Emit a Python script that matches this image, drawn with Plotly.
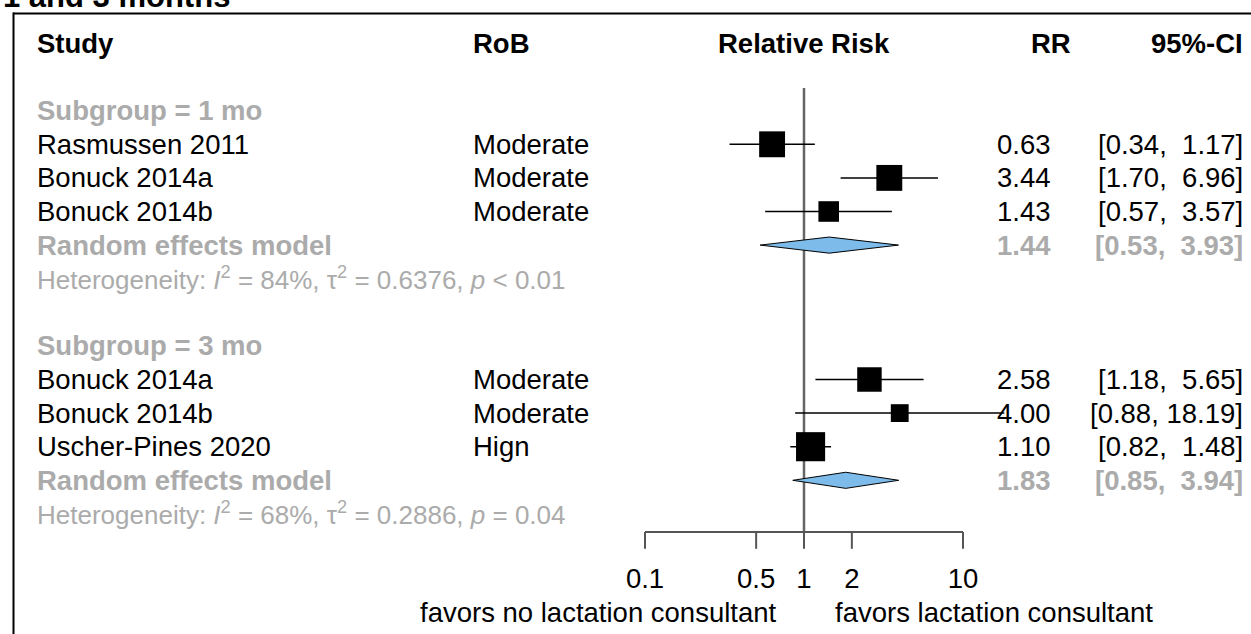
import numpy as np
import plotly.graph_objects as go

# ---- data -------------------------------------------------------------
subgroups = ["1 mo", "3 mo"]

study_group = [0, 0, 0, 1, 1, 1]
study_names = ["Rasmussen 2011", "Bonuck 2014a", "Bonuck 2014b",
               "Bonuck 2014a", "Bonuck 2014b", "Uscher-Pines 2020"]
study_rob = ["Moderate", "Moderate", "Moderate", "Moderate", "Moderate", "Hign"]
study_rr = [0.63, 3.44, 1.43, 2.58, 4.00, 1.10]
study_lo = [0.34, 1.70, 0.57, 1.18, 0.88, 0.82]
study_hi = [1.17, 6.96, 3.57, 5.65, 18.19, 1.48]
study_weight = [38, 38, 24, 34, 18, 48]   # percent weight within subgroup

pooled_rr = [1.44, 1.83]
pooled_lo = [0.53, 0.85]
pooled_hi = [3.93, 3.94]

het_i2 = ["84%", "68%"]
het_tau2 = ["0.6376", "0.2886"]
het_p = ["&lt; 0.01", "= 0.04"]

axis_ticks = [0.1, 0.5, 1, 2, 10]
axis_tick_labels = ["0.1", "0.5", "1", "2", "10"]
label_left = "favors no lactation consultant"
label_right = "favors lactation consultant"

# ---- layout constants -------------------------------------------------
W, H = 1251, 634
REF_PX = 804.0      # horizontal pixel of RR = 1
DEC_PX = 159.0      # pixels per decade on the log scale
ROW0_PX = 43.5      # pixel centre of the header row
ROW_PX = 33.6       # pixels per row

FONT = "Liberation Sans, Arial, sans-serif"
FS = 27.5
FS_HET = 26
GREY = "#ababab"
DIAMOND = "#7dbbea"

AXIS_ROW = (532 - ROW0_PX) / ROW_PX
TICK_LEN = 0.5
TICKLAB_ROW = (581 - ROW0_PX) / ROW_PX
SIDE_ROW = (612 - ROW0_PX) / ROW_PX
REF_TOP_ROW = (88 - ROW0_PX) / ROW_PX
DIAMOND_HALF = 0.24

X_STUDY = 36
X_ROB = 472
X_RR = 1052
X_CI = 1244


def fmt_ci(lo, hi):
    hi_s = f"{hi:.2f}"
    pad = "\u00a0" if len(hi_s) < 5 else ""
    return f"[{lo:.2f}, {pad}{hi_s}]"


# ---- row assignment ---------------------------------------------------
rows_sub, rows_study, rows_pool, rows_het = [], [], [], []
r = 2
for g in range(len(subgroups)):
    rows_sub.append(r)
    r += 1
    for i, sg in enumerate(study_group):
        if sg == g:
            rows_study.append(r)
            r += 1
    rows_pool.append(r)
    rows_het.append(r + 1)
    r += 3

fig = go.Figure()

# reference line at RR = 1
fig.add_trace(go.Scatter(x=[1, 1], y=[REF_TOP_ROW, AXIS_ROW], mode="lines",
                         line=dict(color="#666666", width=2.5), hoverinfo="skip"))

# confidence intervals
ci_x, ci_y = [], []
for lo, hi, row in zip(study_lo, study_hi, rows_study):
    ci_x += [lo, hi, None]
    ci_y += [row, row, None]
fig.add_trace(go.Scatter(x=ci_x, y=ci_y, mode="lines",
                         line=dict(color="black", width=1.5), hoverinfo="skip"))

# study boxes, side proportional to sqrt(weight)
box_sizes = [4.2 * np.sqrt(w) for w in study_weight]
fig.add_trace(go.Scatter(x=study_rr, y=rows_study, mode="markers",
                         marker=dict(symbol="square", size=box_sizes, color="black",
                                     opacity=1, line=dict(width=0)),
                         hoverinfo="skip"))

# pooled diamonds
for est, lo, hi, row in zip(pooled_rr, pooled_lo, pooled_hi, rows_pool):
    fig.add_trace(go.Scatter(
        x=[lo, est, hi, est, lo],
        y=[row, row - DIAMOND_HALF, row, row + DIAMOND_HALF, row],
        mode="lines", fill="toself", fillcolor=DIAMOND,
        line=dict(color="black", width=1), hoverinfo="skip"))

# x axis: line, ticks, labels
fig.add_trace(go.Scatter(x=[axis_ticks[0], axis_ticks[-1]], y=[AXIS_ROW, AXIS_ROW],
                         mode="lines", line=dict(color="#555555", width=2),
                         hoverinfo="skip"))
tx, ty = [], []
for t in axis_ticks:
    tx += [t, t, None]
    ty += [AXIS_ROW, AXIS_ROW + TICK_LEN, None]
fig.add_trace(go.Scatter(x=tx, y=ty, mode="lines",
                         line=dict(color="#555555", width=2), hoverinfo="skip"))
fig.add_trace(go.Scatter(x=axis_ticks, y=[TICKLAB_ROW] * len(axis_ticks), mode="text",
                         text=axis_tick_labels,
                         textfont=dict(family=FONT, size=FS, color="black"),
                         hoverinfo="skip"))


def txt(x_px, row, s, anchor="left", size=FS, color="black"):
    fig.add_annotation(x=x_px / W, xref="paper", y=row, yref="y", text=s,
                       showarrow=False, xanchor=anchor, yanchor="middle",
                       font=dict(family=FONT, size=size, color=color),
                       borderpad=0)


# header
txt(X_STUDY, 0, "<b>Study</b>")
txt(X_ROB, 0, "<b>RoB</b>")
txt(REF_PX, 0, "<b>Relative Risk</b>", anchor="center")
txt(X_RR + 20, 0, "<b>RR</b>", anchor="right")
txt(X_CI, 0, "<b>95%-CI</b>", anchor="right")

# subgroups
for g, name in enumerate(subgroups):
    txt(X_STUDY, rows_sub[g], f"<b>Subgroup = {name}</b>", color=GREY)
    txt(X_STUDY, rows_pool[g], "<b>Random effects model</b>", color=GREY)
    txt(X_RR, rows_pool[g], f"<b>{pooled_rr[g]:.2f}</b>", anchor="right", color=GREY)
    txt(X_CI, rows_pool[g], f"<b>{fmt_ci(pooled_lo[g], pooled_hi[g])}</b>",
        anchor="right", color=GREY)
    txt(X_STUDY, rows_het[g],
        f"Heterogeneity: <i>I</i><sup>2</sup> = {het_i2[g]}, "
        f"\u03c4<sup>2</sup> = {het_tau2[g]}, <i>p</i> {het_p[g]}",
        size=FS_HET, color=GREY)

# studies
for i, row in enumerate(rows_study):
    txt(X_STUDY, row, study_names[i])
    txt(X_ROB, row, study_rob[i])
    txt(X_RR, row, f"{study_rr[i]:.2f}", anchor="right")
    txt(X_CI, row, fmt_ci(study_lo[i], study_hi[i]), anchor="right")

# direction labels under the axis
txt(REF_PX - 26, SIDE_ROW, label_left, anchor="right")
txt(REF_PX + 30, SIDE_ROW, label_right, anchor="left")

# title line, partly above the page edge
fig.add_annotation(x=1 / W, xref="paper", y=1 + 4 / H, yref="paper",
                   text="<b>1 and 3 months</b>", showarrow=False,
                   xanchor="left", yanchor="middle",
                   font=dict(family=FONT, size=31, color="black"))

# panel frame (top and left edges)
fig.add_shape(type="line", xref="paper", yref="paper",
              x0=13 / W, x1=1, y0=1 - 13.5 / H, y1=1 - 13.5 / H,
              line=dict(color="black", width=2))
fig.add_shape(type="line", xref="paper", yref="paper",
              x0=13.5 / W, x1=13.5 / W, y0=0, y1=1 - 12.5 / H,
              line=dict(color="black", width=2))

fig.update_layout(
    width=W, height=H,
    margin=dict(l=0, r=0, t=0, b=0),
    paper_bgcolor="white", plot_bgcolor="white",
    showlegend=False,
    xaxis=dict(type="log", range=[(0 - REF_PX) / DEC_PX, (W - REF_PX) / DEC_PX],
               domain=[0, 1], visible=False, fixedrange=True),
    yaxis=dict(range=[(H - ROW0_PX) / ROW_PX, (0 - ROW0_PX) / ROW_PX],
               domain=[0, 1], visible=False, fixedrange=True),
)

fig.write_html("out.html")
